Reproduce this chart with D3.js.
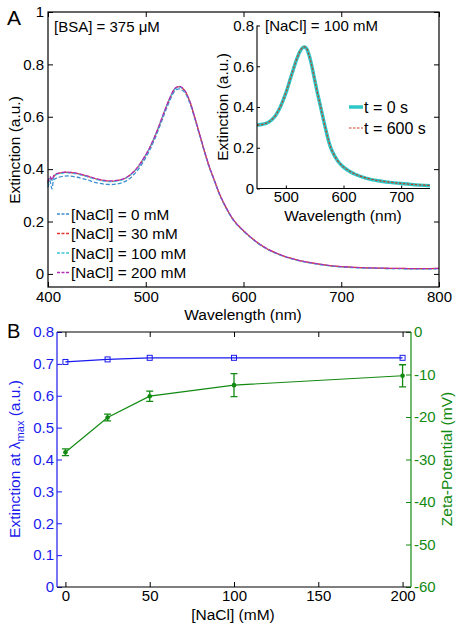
<!DOCTYPE html>
<html><head><meta charset="utf-8">
<script src="https://cdn.jsdelivr.net/npm/d3@7"></script>
<style>
html,body{margin:0;padding:0;background:#fff;}
svg{display:block;font-family:'Liberation Sans',Arial,Helvetica,sans-serif;}
</style></head>
<body>
<svg id="chart" width="460" height="628"></svg>
<script>
// ---- Panel A main spectra ----
const wavelengths = [400,402,404,406,408,410,415,420,430,440,450,460,470,480,490,500,505,510,515,520,525,530,535,540,545,550,555,560,565,570,575,580,590,600,610,620,630,640,650,660,670,680,690,700,720,740,760,780,800];
const ext0mM   = [0.330,0.355,0.325,0.360,0.365,0.368,0.372,0.374,0.369,0.359,0.348,0.342,0.343,0.355,0.388,0.444,0.480,0.522,0.570,0.620,0.665,0.699,0.706,0.692,0.653,0.595,0.531,0.467,0.407,0.357,0.307,0.267,0.203,0.163,0.131,0.104,0.084,0.069,0.057,0.048,0.041,0.035,0.030,0.027,0.023,0.021,0.020,0.019,0.020];
const ext30mM  = [0.345,0.368,0.362,0.372,0.380,0.383,0.387,0.388,0.383,0.373,0.362,0.355,0.356,0.367,0.399,0.454,0.489,0.531,0.579,0.629,0.674,0.708,0.715,0.699,0.659,0.599,0.534,0.469,0.409,0.359,0.309,0.269,0.205,0.165,0.132,0.105,0.085,0.070,0.058,0.049,0.042,0.036,0.031,0.028,0.024,0.022,0.021,0.020,0.021];
const ext100mM = [0.340,0.365,0.352,0.370,0.378,0.381,0.385,0.386,0.381,0.371,0.360,0.353,0.354,0.366,0.398,0.453,0.488,0.530,0.578,0.628,0.672,0.706,0.713,0.697,0.657,0.598,0.533,0.468,0.408,0.358,0.308,0.268,0.204,0.164,0.131,0.104,0.084,0.069,0.057,0.048,0.041,0.035,0.030,0.027,0.023,0.021,0.020,0.019,0.020];
const ext200mM = [0.350,0.372,0.358,0.376,0.381,0.384,0.388,0.389,0.384,0.374,0.363,0.356,0.357,0.368,0.400,0.455,0.490,0.532,0.580,0.630,0.675,0.709,0.716,0.700,0.660,0.600,0.535,0.470,0.410,0.360,0.310,0.270,0.205,0.165,0.132,0.105,0.085,0.070,0.058,0.049,0.042,0.036,0.031,0.028,0.024,0.022,0.021,0.020,0.021];
const seriesNames = ["[NaCl] = 0 mM","[NaCl] = 30 mM","[NaCl] = 100 mM","[NaCl] = 200 mM"];
const seriesColors = ["#3d8fd1","#e0342c","#3cc6d6","#b02cb8"];
const mainXTicks = [400,500,600,700,800];
const mainYTicks = [0,0.2,0.4,0.6,0.8,1];

// ---- Panel A inset ----
const insetWavelengths = [450,460,470,480,490,500,510,520,525,530,535,540,545,550,555,560,565,570,575,580,590,600,610,620,640,660,680,700,720,750];
const insetT0   = [0.312,0.315,0.325,0.350,0.398,0.468,0.558,0.643,0.675,0.693,0.690,0.657,0.602,0.533,0.466,0.404,0.340,0.280,0.225,0.185,0.135,0.105,0.085,0.070,0.050,0.038,0.030,0.024,0.019,0.014];
const insetT600 = [0.311,0.315,0.326,0.351,0.399,0.469,0.559,0.644,0.676,0.694,0.691,0.658,0.603,0.534,0.467,0.405,0.341,0.281,0.226,0.186,0.136,0.106,0.086,0.071,0.051,0.039,0.031,0.025,0.020,0.015];
const insetXTicks = [500,600,700];
const insetYTicks = [0,0.2,0.4,0.6,0.8];

// ---- Panel B ----
const nacl = [0,25,50,100,200];
const extMax = [0.706,0.714,0.719,0.719,0.719];
const zeta = [-28.3,-20.1,-15.1,-12.5,-10.3];
const zetaErr = [0.8,0.8,1.2,2.7,2.6];
const bXTicks = [0,50,100,150,200];
const bLeftTicks = [0,0.1,0.2,0.3,0.4,0.5,0.6,0.7,0.8];
const bRightTicks = [0,-10,-20,-30,-40,-50,-60];

const svg = d3.select("#chart");
const FS = 15;
const fmt = d3.format("~g");

// ================= Panel A main =================
const A = {l:48, r:439, t:12, b:287};
const xA = d3.scaleLinear().domain([400,800]).range([A.l,A.r]);
const yA = d3.scaleLinear().domain([-0.05,1]).range([A.b,A.t]);

const gA = svg.append("g");
function styleAxis(g,color){
  g.select(".domain").remove();
  g.selectAll(".tick line").attr("stroke",color).attr("stroke-width",1);
  g.selectAll(".tick text").attr("fill",color).style("font-size",FS+"px").style("font-family","'Liberation Sans',Arial,sans-serif");
}
styleAxis(gA.append("g").attr("transform",`translate(0,${A.b})`).call(d3.axisBottom(xA).tickValues(mainXTicks).tickSize(-5).tickPadding(4)),"#000");
styleAxis(gA.append("g").attr("transform",`translate(0,${A.t})`).call(d3.axisTop(xA).tickValues(mainXTicks).tickSize(-5).tickFormat("")),"#000");
styleAxis(gA.append("g").attr("transform",`translate(${A.l},0)`).call(d3.axisLeft(yA).tickValues(mainYTicks).tickSize(-5).tickPadding(4).tickFormat(fmt)),"#000");
styleAxis(gA.append("g").attr("transform",`translate(${A.r},0)`).call(d3.axisRight(yA).tickValues(mainYTicks).tickSize(-5).tickFormat("")),"#000");

const mainSeries = [ext0mM,ext30mM,ext100mM,ext200mM];
const lineA = d3.line().x(d=>xA(d[0])).y(d=>yA(d[1])).curve(d3.curveCatmullRom.alpha(0.5));
mainSeries.forEach((s,i)=>{
  gA.append("path").datum(wavelengths.map((w,j)=>[w,s[j]]))
    .attr("d",lineA).attr("fill","none").attr("stroke",seriesColors[i])
    .attr("stroke-width",1.3).attr("stroke-dasharray","4,2");
});
gA.append("rect").attr("x",A.l).attr("y",A.t).attr("width",A.r-A.l).attr("height",A.b-A.t)
  .attr("fill","none").attr("stroke","#000").attr("stroke-width",1.2);

// legend
seriesNames.forEach((n,i)=>{
  const y = 214 + i*19.5;
  gA.append("line").attr("x1",57).attr("x2",70).attr("y1",y).attr("y2",y)
    .attr("stroke",seriesColors[i]).attr("stroke-width",1.3).attr("stroke-dasharray","3,1.5");
  gA.append("text").attr("x",71).attr("y",y+5.5).text(n).style("font-size","15.3px");
});
gA.append("text").attr("x",54).attr("y",32).text("[BSA] = 375 μM").style("font-size","15px");
gA.append("text").attr("x",243).attr("y",320).attr("text-anchor","middle").text("Wavelength (nm)").style("font-size","15.5px");
gA.append("text").attr("transform",`translate(20,150) rotate(-90)`).attr("text-anchor","middle").text("Extinction (a.u.)").style("font-size","15.5px");
svg.append("text").attr("x",7).attr("y",25).text("A").style("font-size","21px");

// ================= Inset =================
const I = {l:257, r:430, t:25.5, b:188.5};
const xI = d3.scaleLinear().domain([450,750]).range([I.l,I.r]);
const yI = d3.scaleLinear().domain([0,0.8]).range([I.b,I.t]);
const gI = svg.append("g");
gI.append("rect").attr("x",I.l).attr("y",I.t).attr("width",I.r-I.l).attr("height",I.b-I.t).attr("fill","#fff");
styleAxis(gI.append("g").attr("transform",`translate(0,${I.b})`).call(d3.axisBottom(xI).tickValues(insetXTicks).tickSize(-3).tickPadding(3)),"#000");
styleAxis(gI.append("g").attr("transform",`translate(${I.l},0)`).call(d3.axisLeft(yI).tickValues(insetYTicks).tickSize(-3).tickPadding(3).tickFormat(fmt)),"#000");
const lineI = d3.line().x(d=>xI(d[0])).y(d=>yI(d[1])).curve(d3.curveCatmullRom.alpha(0.5));
gI.append("path").datum(insetWavelengths.map((w,j)=>[w,insetT0[j]])).attr("d",lineI)
  .attr("fill","none").attr("stroke","#2ec6c6").attr("stroke-width",3.5);
gI.append("path").datum(insetWavelengths.map((w,j)=>[w,insetT600[j]])).attr("d",lineI)
  .attr("fill","none").attr("stroke","#b8452a").attr("stroke-width",1.2).attr("stroke-dasharray","2.5,1.5");
gI.append("path").attr("d",`M${I.l},${I.t}V${I.b}H${I.r}`).attr("fill","none").attr("stroke","#000").attr("stroke-width",1.1);
// inset legend
gI.append("line").attr("x1",349).attr("x2",363).attr("y1",107).attr("y2",107).attr("stroke","#2ec6c6").attr("stroke-width",3.5);
gI.append("text").attr("x",364).attr("y",112.5).text("t = 0 s").style("font-size","16px");
gI.append("line").attr("x1",349).attr("x2",363).attr("y1",128).attr("y2",128).attr("stroke","#d0402a").attr("stroke-width",1.2).attr("stroke-dasharray","2.5,1.5");
gI.append("text").attr("x",364).attr("y",133.5).text("t = 600 s").style("font-size","16px");
gI.append("text").attr("x",265).attr("y",31).text("[NaCl] = 100 mM").style("font-size","15px");
gI.append("text").attr("x",343).attr("y",221).attr("text-anchor","middle").text("Wavelength (nm)").style("font-size","15.5px");
gI.append("text").attr("transform",`translate(228,107) rotate(-90)`).attr("text-anchor","middle").text("Extinction (a.u.)").style("font-size","15.5px");

// ================= Panel B =================
const B = {l:57, r:411, t:332, b:587};
const blue = "#1a1aee", green = "#128a12";
const xB = d3.scaleLinear().domain([-5,205]).range([B.l,B.r]);
const yBL = d3.scaleLinear().domain([0,0.8]).range([B.b,B.t]);
const yBR = d3.scaleLinear().domain([-60,0]).range([B.b,B.t]);
const gB = svg.append("g");
styleAxis(gB.append("g").attr("transform",`translate(0,${B.b})`).call(d3.axisBottom(xB).tickValues(bXTicks).tickSize(-5).tickPadding(3)),"#000");
styleAxis(gB.append("g").attr("transform",`translate(0,${B.t})`).call(d3.axisTop(xB).tickValues(bXTicks).tickSize(-5).tickFormat("")),"#000");
styleAxis(gB.append("g").attr("transform",`translate(${B.l},0)`).call(d3.axisLeft(yBL).tickValues(bLeftTicks).tickSize(-5).tickPadding(3).tickFormat(fmt)),blue);
styleAxis(gB.append("g").attr("transform",`translate(${B.r},0)`).call(d3.axisRight(yBR).tickValues(bRightTicks).tickSize(-5).tickPadding(3).tickFormat(d=>String(d))),green);
gB.append("line").attr("x1",B.l).attr("x2",B.r).attr("y1",B.t).attr("y2",B.t).attr("stroke","#000").attr("stroke-width",1.2);
gB.append("line").attr("x1",B.l).attr("x2",B.r).attr("y1",B.b).attr("y2",B.b).attr("stroke","#000").attr("stroke-width",1.2);
gB.append("line").attr("x1",B.l).attr("x2",B.l).attr("y1",B.t).attr("y2",B.b).attr("stroke",blue).attr("stroke-width",1.2);
gB.append("line").attr("x1",B.r).attr("x2",B.r).attr("y1",B.t).attr("y2",B.b).attr("stroke",green).attr("stroke-width",1.2);

// blue series
gB.append("path").datum(nacl.map((n,i)=>[n,extMax[i]]))
  .attr("d",d3.line().x(d=>xB(d[0])).y(d=>yBL(d[1]))).attr("fill","none").attr("stroke",blue).attr("stroke-width",1.2);
gB.selectAll(".sq").data(nacl.map((n,i)=>[n,extMax[i]])).enter().append("rect")
  .attr("x",d=>xB(d[0])-2.5).attr("y",d=>yBL(d[1])-2.5).attr("width",5).attr("height",5)
  .attr("fill","none").attr("stroke",blue).attr("stroke-width",1);
// green series
const gd = nacl.map((n,i)=>({x:n,y:zeta[i],e:zetaErr[i]}));
gB.append("path").datum(gd).attr("d",d3.line().x(d=>xB(d.x)).y(d=>yBR(d.y)))
  .attr("fill","none").attr("stroke",green).attr("stroke-width",1.2);
gd.forEach(d=>{
  const x = xB(d.x), y1 = yBR(d.y-d.e), y2 = yBR(d.y+d.e);
  gB.append("path").attr("d",`M${x},${y1}V${y2}M${x-3.5},${y1}H${x+3.5}M${x-3.5},${y2}H${x+3.5}`)
    .attr("fill","none").attr("stroke",green).attr("stroke-width",1.3);
  gB.append("circle").attr("cx",x).attr("cy",yBR(d.y)).attr("r",2.3).attr("fill",green);
});
gB.append("text").attr("x",233).attr("y",620).attr("text-anchor","middle").text("[NaCl] (mM)").style("font-size","15.5px");
const lt = gB.append("text").attr("transform",`translate(20,459) rotate(-90)`).attr("text-anchor","middle").attr("fill",blue).style("font-size","15.5px");
lt.append("tspan").text("Extinction at λ");
lt.append("tspan").attr("dy",4).style("font-size","11px").text("max");
lt.append("tspan").attr("dy",-4).text(" (a.u.)");
gB.append("text").attr("transform",`translate(452,459) rotate(-90)`).attr("text-anchor","middle").attr("fill",green).text("Zeta-Potential (mV)").style("font-size","15.5px");
svg.append("text").attr("x",7).attr("y",338).text("B").style("font-size","20px");
</script>
</body></html>
